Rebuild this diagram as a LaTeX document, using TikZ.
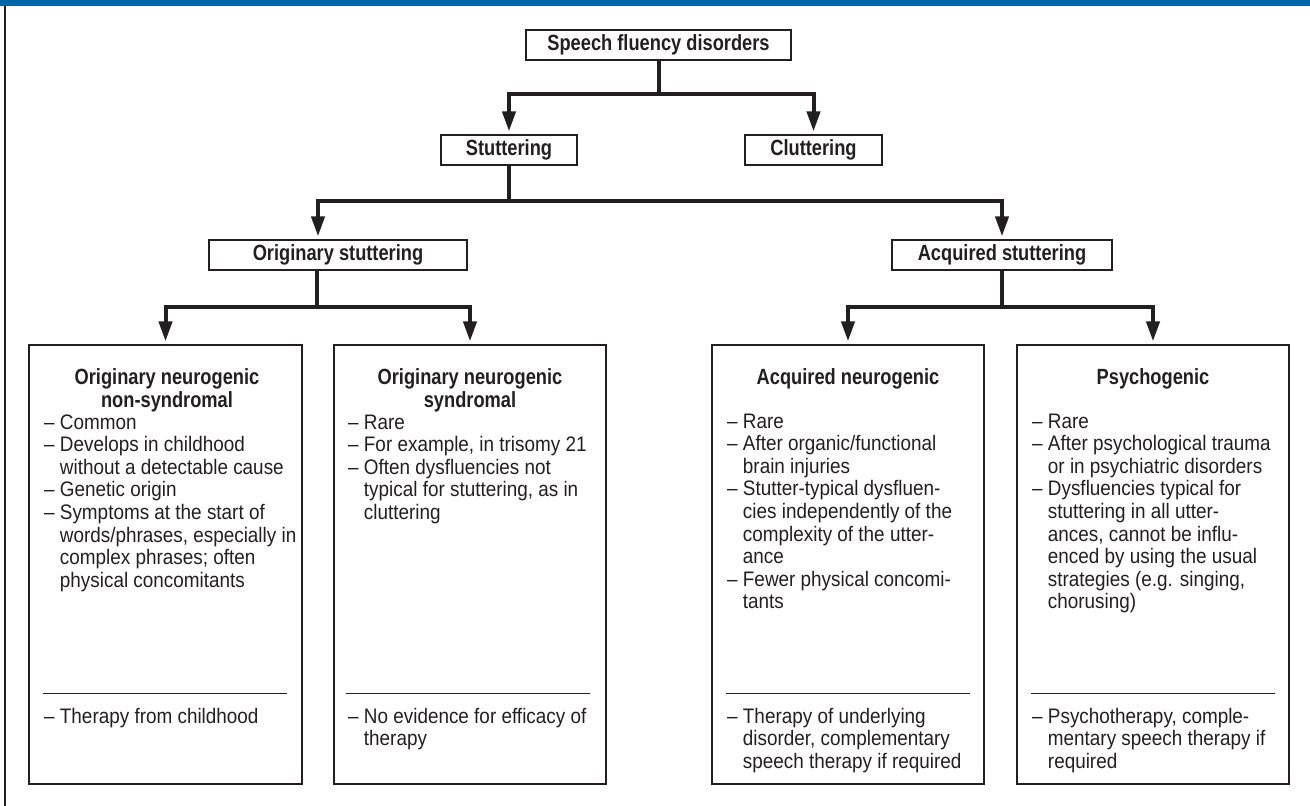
\documentclass[tikz,border=0pt]{standalone}
\usepackage{fontspec}
\setmainfont{Liberation Sans}[FakeStretch=0.9]
\newfontfamily\hfont{Liberation Sans}[FakeStretch=0.83]
\usetikzlibrary{arrows.meta,calc}
\definecolor{ink}{RGB}{35,31,32}
\definecolor{barblue}{RGB}{0,102,168}
\newcommand\dsh{–\ }
\newcommand\cnt{\hphantom{–\ }}
\tikzset{
  conn/.style={draw=ink, line width=4pt, -{Triangle[length=20pt,width=13pt]}, shorten >=3pt},
  lbox/.style={draw=ink, line width=1.2pt, minimum height=30pt, inner sep=0pt, text=ink,
    font=\hfont\bfseries\fontsize{22}{22.6}\selectfont},
  bigbox/.style={draw=ink, line width=1.2pt, minimum width=272pt, minimum height=439pt, inner sep=0pt},
  head/.style={anchor=base, inner sep=0pt, align=center, text=ink,
    font=\hfont\bfseries\fontsize{22}{22.2}\selectfont},
  body/.style={anchor=base west, inner sep=0pt, align=left, text=ink,
    font=\fontsize{21}{22.6}\selectfont},
  sepline/.style={draw=ink, line width=1.1pt}
}
\begin{document}
\begin{tikzpicture}[x=1pt,y=-1pt]
\useasboundingbox (0,0) rectangle (1310,806);
\fill[barblue] (0,0) rectangle (1310,6);
\draw[ink, line width=2pt] (5,6) -- (5,806);

% top level nodes
\node[lbox, minimum width=265pt] (top) at (658.5,45) {Speech fluency disorders};
\node[lbox, minimum width=136pt] (stut) at (509,150) {Stuttering};
\node[lbox, minimum width=137pt] (clut) at (813.5,150) {Cluttering};
\node[lbox, minimum width=258pt] (orig) at (338,255) {Originary stuttering};
\node[lbox, minimum width=220pt] (acq) at (1002,255) {Acquired stuttering};

% big boxes
\node[bigbox, minimum width=273pt] (b1) at (165.5,564.5) {};
\node[bigbox] (b2) at (470,564.5) {};
\node[bigbox] (b3) at (848,564.5) {};
\node[bigbox] (b4) at (1153,564.5) {};

% connectors
\draw[conn] (top.south) -- ++(0,33) -| (stut.north);
\draw[conn] (top.south) -- ++(0,33) -| (clut.north);
\draw[conn] (stut.south) -- ++(0,35) -| ([xshift=-20pt]orig.north);
\draw[conn] (stut.south) -- ++(0,35) -| (acq.north);
\draw[conn] ([xshift=-21pt]orig.south) -- ++(0,36) -| (b1.north);
\draw[conn] ([xshift=-21pt]orig.south) -- ++(0,36) -| (b2.north);
\draw[conn] (acq.south) -- ++(0,36) -| (b3.north);
\draw[conn] (acq.south) -- ++(0,36) -| (b4.north);

% box 1 (anchors are on the baseline of the last line)
\node[head] (h1) at (167,407) {Originary neurogenic\\non-syndromal};
\node[body] (t1) at (44,587.2) {\dsh Common\\
\dsh Develops in childhood\\
\cnt without a detectable cause\\
\dsh Genetic origin\\
\dsh Symptoms at the start of\\
\cnt words/phrases, especially in\\
\cnt complex phrases; often\\
\cnt physical concomitants};
\draw[sepline] ($(b1.south west)+(15,-91)$) -- ($(b1.south east)+(-16,-91)$);
\node[body] (s1) at (44,723) {\dsh Therapy from childhood};

% box 2
\node[head] (h2) at (470,407) {Originary neurogenic\\syndromal};
\node[body] (t2) at (348,519.4) {\dsh Rare\\
\dsh For example, in trisomy 21\\
\dsh Often dysfluencies not\\
\cnt typical for stuttering, as in\\
\cnt cluttering};
\draw[sepline] ($(b2.south west)+(13,-91)$) -- ($(b2.south east)+(-17,-91)$);
\node[body] (s2) at (348,745.6) {\dsh No evidence for efficacy of\\
\cnt therapy};

% box 3
\node[head] (h3) at (848,384) {Acquired neurogenic};
\node[body] (t3) at (727,608.8) {\dsh Rare\\
\dsh After organic/functional\\
\cnt brain injuries\\
\dsh Stutter-typical dysfluen-\\
\cnt cies independently of the\\
\cnt complexity of the utter-\\
\cnt ance\\
\dsh Fewer physical concomi-\\
\cnt tants};
\draw[sepline] ($(b3.south west)+(15,-91)$) -- ($(b3.south east)+(-15,-91)$);
\node[body] (s3) at (727,768.2) {\dsh Therapy of underlying\\
\cnt disorder, complementary\\
\cnt speech therapy if required};

% box 4
\node[head] (h4) at (1153,384) {Psychogenic};
\node[body] (t4) at (1032,608.8) {\dsh Rare\\
\dsh After psychological trauma\\
\cnt or in psychiatric disorders\\
\dsh Dysfluencies typical for\\
\cnt stuttering in all utter-\\
\cnt ances, cannot be influ-\\
\cnt enced by using the usual\\
\cnt strategies (e.g. singing,\\
\cnt chorusing)};
\draw[sepline] ($(b4.south west)+(15,-91)$) -- ($(b4.south east)+(-15,-91)$);
\node[body] (s4) at (1032,768.2) {\dsh Psychotherapy, comple-\\
\cnt mentary speech therapy if\\
\cnt required};
\end{tikzpicture}
\end{document}
